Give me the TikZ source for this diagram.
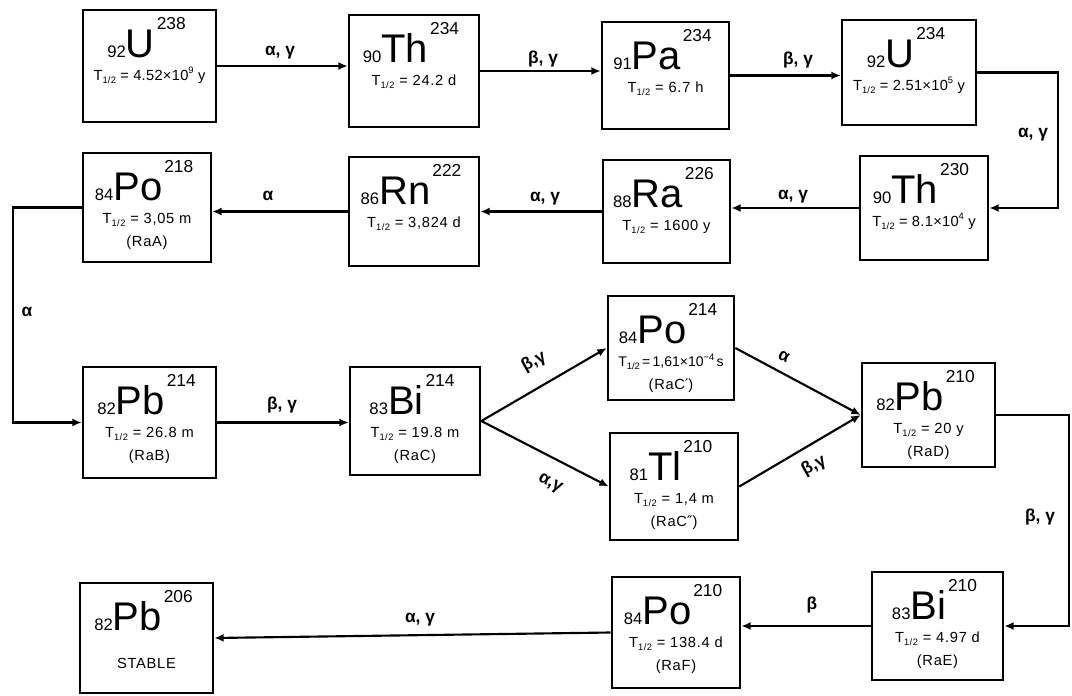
\documentclass[tikz,border=0pt]{standalone}
\usepackage{fontspec}
\setmainfont{Liberation Sans}
\newfontfamily\djv{DejaVu Sans}
\usetikzlibrary{arrows.meta,fit,calc}
\newcommand{\thalf}{T\raisebox{-0.35ex}{\fontsize{7}{7}\selectfont 1/2}}
\newcommand{\pw}[1]{\raisebox{0.9ex}{\fontsize{7}{7}\selectfont #1}}
\newcommand{\iso}[4]{%
  \node[anchor=base, inner sep=0pt] (#1s) at ($(#1.north)+(-3,49)$)
    {{\fontsize{12.5}{12.5}\selectfont #2}{\fontsize{30}{30}\selectfont #3}\hspace{1.5pt}{\fontsize{13}{13}\selectfont\raisebox{21pt}{#4}}};}
\newcommand{\tl}[2]{\node[tline] (#1t) at ($(#1.north)+(0,72)$) {#2};}
\newcommand{\rl}[2]{\node[tline] (#1r) at ($(#1.north)+(0,95)$) {#2};}
\begin{document}
\begin{tikzpicture}[x=0.75pt, y=-0.75pt,
  box/.style={draw, line width=2pt, inner sep=0pt},
  tline/.style={anchor=base, inner sep=0pt, font=\fontsize{11}{11}\selectfont\addfontfeature{LetterSpace=5}},
  arr/.style={line width=1.6pt, -{Latex[length=7pt,width=6pt]}},
  lab/.style={font=\fontsize{13}{13}\selectfont\bfseries, inner sep=1pt}]
\fill[white] (0,0) rectangle (1072,696);
\useasboundingbox (0,0) rectangle (1072,696);
% boxes
\node[box, fit={(83,10) (216,122)}] (U238) {};
\node[box, fit={(349,15) (479,127)}] (Th234) {};
\node[box, fit={(602,22) (729,129)}] (Pa234) {};
\node[box, fit={(842,20) (976,125)}] (U234) {};
\node[box, fit={(860,156) (988,260)}] (Th230) {};
\node[box, fit={(603,160) (730,263)}] (Ra226) {};
\node[box, fit={(349,157) (479,266)}] (Rn222) {};
\node[box, fit={(83,153) (211,262)}] (Po218) {};
\node[box, fit={(83,367) (216,478)}] (Pb214) {};
\node[box, fit={(350,367) (480,475)}] (Bi214) {};
\node[box, fit={(608,296) (734,400)}] (Po214) {};
\node[box, fit={(610,433) (738,540)}] (Tl210) {};
\node[box, fit={(862,363) (995,467)}] (Pb210) {};
\node[box, fit={(872,572) (1003,680)}] (Bi210) {};
\node[box, fit={(612,577) (740,688)}] (Po210) {};
\node[box, fit={(80,583) (213,693)}] (Pb206) {};
% contents
\iso{U238}{92}{U}{238}\tl{U238}{\addfontfeature{LetterSpace=2}\thalf\ = 4.52×10\pw{9} y}
\iso{Th234}{90}{Th}{234}\tl{Th234}{\thalf\ = 24.2 d}
\iso{Pa234}{91}{Pa}{234}\tl{Pa234}{\thalf\ = 6.7 h}
\iso{U234}{92}{U}{234}\tl{U234}{\addfontfeature{LetterSpace=2}\thalf\ = 2.51×10\pw{5} y}
\iso{Th230}{90}{Th}{230}\tl{Th230}{\addfontfeature{LetterSpace=2}\thalf\ = 8.1×10\pw{4} y}
\iso{Ra226}{88}{Ra}{226}\tl{Ra226}{\thalf\ = 1600 y}
\iso{Rn222}{86}{Rn}{222}\tl{Rn222}{\thalf\ = 3,824 d}
\iso{Po218}{84}{Po}{218}\tl{Po218}{\thalf\ = 3,05 m}\rl{Po218}{(RaA)}
\iso{Pb214}{82}{Pb}{214}\tl{Pb214}{\thalf\ = 26.8 m}\rl{Pb214}{(RaB)}
\iso{Bi214}{83}{Bi}{214}\tl{Bi214}{\thalf\ = 19.8 m}\rl{Bi214}{(RaC)}
\iso{Po214}{84}{Po}{214}\tl{Po214}{\fontsize{10.5}{10.5}\selectfont\addfontfeature{LetterSpace=0}\thalf\,=\,1,61×10\pw{−4}\,s}\rl{Po214}{(RaC{\djv ′})}
\iso{Tl210}{81}{Tl}{210}\tl{Tl210}{\thalf\ = 1,4 m}\rl{Tl210}{(RaC{\djv ″})}
\iso{Pb210}{82}{Pb}{210}\tl{Pb210}{\thalf\ = 20 y}\rl{Pb210}{(RaD)}
\iso{Bi210}{83}{Bi}{210}\tl{Bi210}{\thalf\ = 4.97 d}\rl{Bi210}{(RaE)}
\iso{Po210}{84}{Po}{210}\tl{Po210}{\thalf\ = 138.4 d}\rl{Po210}{(RaF)}
\iso{Pb206}{82}{Pb}{206}
\node[tline] (Pb206t) at ($(Pb206.north)+(0,87)$) {STABLE};
% connector corners
\coordinate (cR1) at (1058,0);
\coordinate (cL) at (13,0);
\coordinate (cR2) at (1069,0);
% connectors
\draw[arr] (U238.east) -- (U238.east -| Th234.west);
\draw[arr] (Th234.east) -- (Th234.east -| Pa234.west);
\draw[arr] (Pa234.east) -- (Pa234.east -| U234.west);
\draw[arr] (U234.east) -| (cR1 |- Th230.east) -- (Th230.east);
\draw[arr] (Th230.west) -- (Th230.west -| Ra226.east);
\draw[arr] (Ra226.west) -- (Ra226.west -| Rn222.east);
\draw[arr] (Rn222.west) -- (Rn222.west -| Po218.east);
\draw[arr] (Po218.west) -| (cL |- Pb214.west) -- (Pb214.west);
\draw[arr] (Pb214.east) -- (Pb214.east -| Bi214.west);
\draw[arr] (Bi214.east) -- (Po214.west);
\draw[arr] (Bi214.east) -- (Tl210.west);
\draw[arr] (Po214.east) -- (Pb210.west);
\draw[arr] (Tl210.east) -- (Pb210.west);
\draw[arr] (Pb210.east) -| (cR2 |- Bi210.east) -- (Bi210.east);
\draw[arr] (Bi210.west) -- (Bi210.west -| Po210.east);
\draw[arr] (Po210.west) -- (Pb206.east);
% labels
\node[lab] (l1) at (280,53) {α, γ};
\node[lab] (l2) at (543,59) {β, γ};
\node[lab] (l3) at (798,60) {β, γ};
\node[lab] (l4) at (1033,135) {α, γ};
\node[lab] (l5) at (793,197) {α, γ};
\node[lab] (l6) at (545,199) {α, γ};
\node[lab] (l7) at (268,196) {α};
\node[lab] (l8) at (27,312) {α};
\node[lab] (l9) at (282,405) {β, γ};
\node[lab, rotate=29] (l10) at (534,362) {β,γ};
\node[lab, rotate=-29] (l11) at (550,484) {α,γ};
\node[lab, rotate=-25] (l12) at (784,357) {α};
\node[lab, rotate=29] (l13) at (814,466) {β,γ};
\node[lab] (l14) at (1040,517) {β, γ};
\node[lab] (l15) at (812,605) {β};
\node[lab] (l16) at (420,620) {α, γ};
\end{tikzpicture}
\end{document}
